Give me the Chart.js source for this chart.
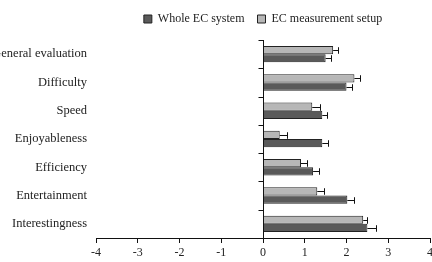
<!DOCTYPE html>
<html>
<head>
<meta charset="utf-8">
<script src="https://cdn.jsdelivr.net/npm/chart.js@4/dist/chart.umd.min.js"></script>
<style>
html,body{margin:0;padding:0;background:#fff;}
#wrap{width:432px;height:262px;}
</style>
</head>
<body>
<div id="wrap"><canvas id="c" width="432" height="262"></canvas></div>
<script>
const categories = ['General evaluation','Difficulty','Speed','Enjoyableness','Efficiency','Entertainment','Interestingness'];
const wholeSystem = [1.5, 2.0, 1.42, 1.42, 1.2, 2.02, 2.5];
const wholeSystemErr = [0.12, 0.14, 0.12, 0.14, 0.15, 0.15, 0.2];
const measurementSetup = [1.68, 2.19, 1.18, 0.4, 0.91, 1.3, 2.4];
const measurementSetupErr = [0.12, 0.14, 0.19, 0.18, 0.15, 0.15, 0.1];
const xTicks = [-4, -3, -2, -1, 0, 1, 2, 3, 4];

const FONT = "'Liberation Serif', 'Times New Roman', serif";

const errorBars = {
  id: 'errorBars',
  afterDatasetsDraw(chart) {
    const ctx = chart.ctx;
    const xs = chart.scales.x;
    ctx.save();
    ctx.strokeStyle = '#111';
    ctx.lineWidth = 1;
    chart.data.datasets.forEach((ds, i) => {
      const meta = chart.getDatasetMeta(i);
      meta.data.forEach((bar, j) => {
        const hi = xs.getPixelForValue(ds.data[j] + ds.err[j]);
        const y = Math.round(bar.y) + 0.5;
        const half = bar.height * 0.4;
        const xh = Math.round(hi) + 0.5;
        ctx.beginPath();
        ctx.moveTo(bar.x, y);
        ctx.lineTo(xh, y);
        ctx.moveTo(xh, y - half);
        ctx.lineTo(xh, y + half);
        ctx.stroke();
      });
    });
    ctx.restore();
  }
};

const zeroAxis = {
  id: 'zeroAxis',
  afterDatasetsDraw(chart) {
    const ctx = chart.ctx;
    const xs = chart.scales.x, ys = chart.scales.y;
    const x0 = Math.round(xs.getPixelForValue(0)) + 0.5;
    const n = categories.length;
    const step = (ys.getPixelForValue(1) - ys.getPixelForValue(0));
    ctx.save();
    ctx.strokeStyle = '#111';
    ctx.lineWidth = 1;
    ctx.beginPath();
    ctx.moveTo(x0, chart.chartArea.top);
    ctx.lineTo(x0, chart.chartArea.bottom + 5);
    for (let i = 0; i < n; i++) {
      const yb = Math.round(ys.getPixelForValue(i) - step / 2) + 0.5;
      ctx.moveTo(x0 - 5, yb);
      ctx.lineTo(x0, yb);
    }
    ctx.stroke();
    ctx.restore();
  }
};

const legendHeight = {
  id: 'legendHeight',
  afterInit(chart) {
    const lg = chart.legend;
    if (!lg) return;
    const orig = lg.fit;
    lg.fit = function () {
      orig.call(this);
      this.height = 40;
    };
  }
};

new Chart(document.getElementById('c'), {
  type: 'bar',
  data: {
    labels: categories,
    datasets: [
      {
        label: 'EC measurement setup',
        data: measurementSetup,
        err: measurementSetupErr,
        backgroundColor: '#b7b7b7',
        borderColor: '#222',
        borderWidth: 1,
        categoryPercentage: 0.58,
        barPercentage: 1.0
      },
      {
        label: 'Whole EC system',
        data: wholeSystem,
        err: wholeSystemErr,
        backgroundColor: '#5a5a5a',
        borderColor: '#222',
        borderWidth: 1,
        categoryPercentage: 0.58,
        barPercentage: 1.0
      }
    ]
  },
  options: {
    indexAxis: 'y',
    responsive: false,
    animation: false,
    devicePixelRatio: 1,
    layout: { padding: { top: 0, right: 2, left: 0, bottom: 0 } },
    plugins: {
      legend: {
        position: 'top',
        fullSize: false,
        reverse: true,
        labels: {
          boxWidth: 8,
          boxHeight: 8,
          padding: 13,
          color: '#222',
          font: { family: FONT, size: 12 }
        }
      },
      tooltip: { enabled: false }
    },
    scales: {
      x: {
        type: 'linear',
        min: -4,
        max: 4,
        afterBuildTicks(scale) { scale.ticks = xTicks.map(v => ({ value: v })); },
        grid: { drawOnChartArea: false, drawTicks: true, tickLength: 5, color: '#111' },
        border: { display: true, color: '#111', width: 1 },
        ticks: {
          color: '#222',
          padding: 3,
          font: { family: FONT, size: 12 },
          callback: (v) => String(v)
        },
        afterFit(scale) {
          scale.height = 24;
          scale.paddingLeft = 0;
          scale.paddingRight = 0;
        }
      },
      y: {
        grid: { display: false, drawTicks: false },
        border: { display: false },
        ticks: {
          color: '#222',
          padding: 9,
          font: { family: FONT, size: 12.5 }
        },
        afterFit(scale) { scale.width = 96; }
      }
    }
  },
  plugins: [errorBars, zeroAxis, legendHeight]
});
</script>
</body>
</html>
